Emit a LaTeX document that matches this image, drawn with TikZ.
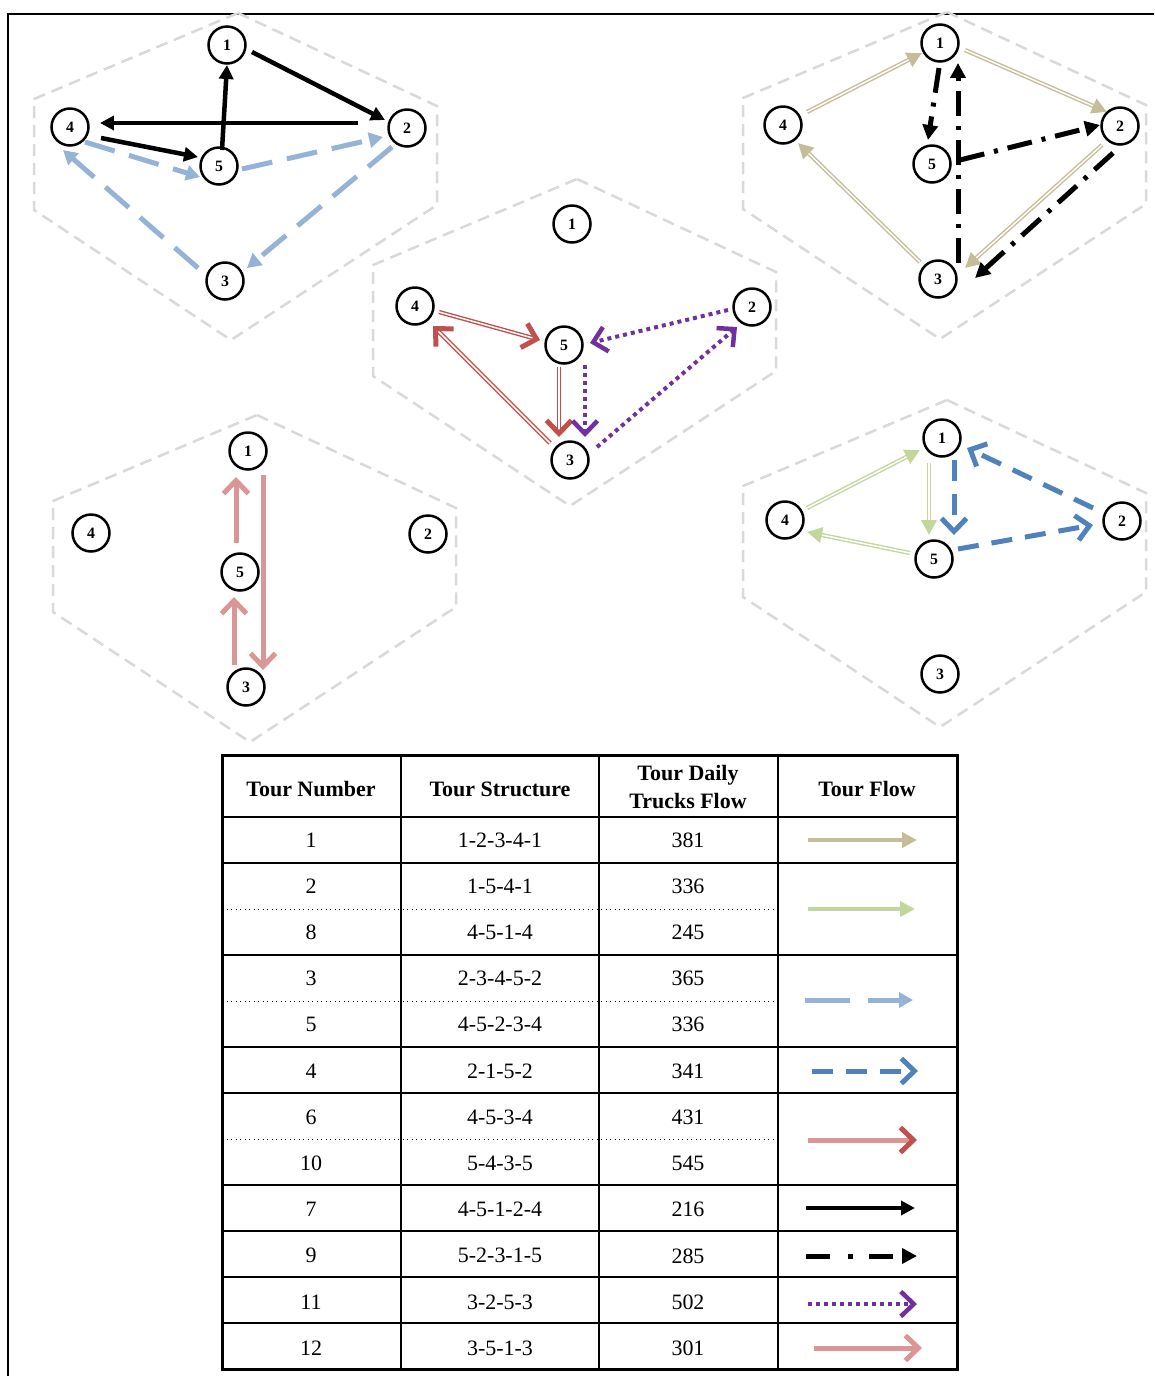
\documentclass[tikz,border=0pt]{standalone}
\usepackage{fontspec}
\setmainfont{Liberation Serif}
\usetikzlibrary{arrows.meta}
\usepackage{xcolor}
\definecolor{tourtan}{RGB}{196, 189, 151}
\definecolor{tourgreen}{RGB}{195, 214, 155}
\definecolor{tourlblue}{RGB}{149, 179, 215}
\definecolor{tourblue}{RGB}{79, 129, 189}
\definecolor{tourred}{RGB}{192, 80, 77}
\definecolor{tourpink}{RGB}{217, 150, 148}
\definecolor{tourpurple}{RGB}{112, 48, 160}
\definecolor{cellgray}{RGB}{217, 217, 217}

% five stations of one cell, placed around station 1
\newcommand{\sites}[3]{%
  \node[site] (#1-1) at (#2,#3) {1};
  \node[site] (#1-2) at (#2+180,#3+83) {2};
  \node[site] (#1-3) at (#2-2,#3+236) {3};
  \node[site] (#1-4) at (#2-157,#3+82) {4};
  \node[site] (#1-5) at (#2-8,#3+121) {5};
}
% dashed hexagon behind a cell, given its top left corner
\newcommand{\hexcell}[2]{%
  \draw[cell] (#1+204,#2) -- (#1+403,#2+93) -- (#1+403,#2+192) -- (#1+197,#2+327)
    -- (#1,#2+197) -- (#1,#2+86) -- cycle;
}
% double line with a solid head: body first, then the tip alone
\newcommand{\twinarrow}[3]{%
  \draw[#1, twin, arrows=-, shorten >=0.1cm] #2 -- #3;
  \draw[#1, dash pattern=on 0pt off 100cm] #2 -- #3;
}

\begin{document}
\begin{tikzpicture}[
    x=0.02cm, y=-0.02cm,
    site/.style={circle, draw, line width=0.05cm, minimum size=0.74cm, inner sep=0pt, font=\fontsize{9}{9}\selectfont\bfseries},
    cell/.style={draw=cellgray, line width=0.05cm, dash pattern=on 0.24cm off 0.14cm},
    twin/.style={line width=0.028cm, double=white, double distance=0.03cm},
    barb/.style={-{Straight Barb[length=0.26cm, width=0.5cm, line width'=#1]}},
    tourone/.style={draw=tourtan, line width=0.08cm, -{Triangle[length=0.3cm, width=0.3cm]}},
    tourtwo/.style={draw=tourgreen, line width=0.08cm, -{Triangle[length=0.3cm, width=0.3cm]}},
    tourthree/.style={draw=tourlblue, line width=0.1cm, dash pattern=on 0.62cm off 0.3cm, -{Triangle[length=0.28cm, width=0.3cm]}},
    tourfour/.style={draw=tourblue, line width=0.1cm, dash pattern=on 0.42cm off 0.26cm, barb=0.1cm},
    toursix/.style={draw=tourred, line width=0.08cm, barb=0.1cm},
    tourseven/.style={draw=black, line width=0.09cm, -{Triangle[length=0.28cm, width=0.28cm]}},
    tournine/.style={draw=black, line width=0.1cm, dash pattern=on 0.5cm off 0.2cm on 0.08cm off 0.2cm, -{Triangle[length=0.3cm, width=0.3cm]}},
    toureleven/.style={draw=tourpurple, line width=0.08cm, dash pattern=on 0.08cm off 0.08cm, barb=0.09cm},
    tourtwelve/.style={draw=tourpink, line width=0.1cm, barb=0.1cm},
    head/.style={font=\fontsize{12.5}{16}\selectfont\bfseries, align=center},
    entry/.style={font=\fontsize{12.5}{14}\selectfont}
]
\useasboundingbox (0,0) rectangle (1154,1376);

% page frame
\draw[line width=0.045cm] (8,1376) -- (8,14) -- (1154,14);

% cells
\hexcell{34}{13}
\hexcell{743}{12}
\hexcell{373}{179}
\hexcell{53}{415}
\hexcell{743}{400}

% stations
\sites{a}{227}{45}
\sites{b}{940}{43}
\sites{c}{572}{224}
\sites{d}{248}{451}
\sites{e}{942}{438}

% tours 7 and 3/5
\draw[tourseven] ([shift={(31,11)}]a-4.center) -- ([shift={(-21,-9)}]a-5.center);
\draw[tourseven] ([shift={(3,-16)}]a-5.center) -- ([shift={(0,20)}]a-1.center);
\draw[tourseven] ([shift={(25,7)}]a-1.center) -- ([shift={(-22,-8)}]a-2.center);
\draw[tourseven] ([shift={(-49,-5)}]a-2.center) -- ([shift={(30,-4)}]a-4.center);
\draw[tourthree] ([shift={(15,15)}]a-4.center) -- ([shift={(-19,11)}]a-5.center);
\draw[tourthree] ([shift={(23,3)}]a-5.center) -- ([shift={(-24,9)}]a-2.center);
\draw[tourthree] ([shift={(-15,19)}]a-2.center) -- ([shift={(22,-13)}]a-3.center);
\draw[tourthree] ([shift={(-27,-13)}]a-3.center) -- ([shift={(-7,23)}]a-4.center);

% tours 1 and 9
\twinarrow{tourone}{([shift={(24,-13)}]b-4.center)}{([shift={(-18,10)}]b-1.center)}
\twinarrow{tourone}{([shift={(25,7)}]b-1.center)}{([shift={(-13,-14)}]b-2.center)}
\twinarrow{tourone}{([shift={(-18,19)}]b-2.center)}{([shift={(27,-11)}]b-3.center)}
\twinarrow{tourone}{([shift={(-18,-17)}]b-3.center)}{([shift={(15,18)}]b-4.center)}
\draw[tournine] ([shift={(28,-4)}]b-5.center) -- ([shift={(-20,-1)}]b-2.center);
\draw[tournine] ([shift={(-7,27)}]b-2.center) -- ([shift={(37,-1)}]b-3.center);
\draw[tournine] ([shift={(20,-16)}]b-3.center) -- ([shift={(18,20)}]b-1.center);
\draw[tournine] ([shift={(-1,25)}]b-1.center) -- ([shift={(-4,-24)}]b-5.center);

% tours 6/10 and 11
\twinarrow{toursix}{([shift={(24,6)}]c-4.center)}{([shift={(-24,-5)}]c-5.center)}
\twinarrow{toursix}{([shift={(-5,22)}]c-5.center)}{([shift={(-11,-23)}]c-3.center)}
\twinarrow{toursix}{([shift={(-20,-17)}]c-3.center)}{([shift={(18,20)}]c-4.center)}
\draw[toureleven] ([shift={(-24,3)}]c-2.center) -- ([shift={(26,-2)}]c-5.center);
\draw[toureleven] ([shift={(21,20)}]c-5.center) -- ([shift={(15,-23)}]c-3.center);
\draw[toureleven] ([shift={(27,-13)}]c-3.center) -- ([shift={(-15,20)}]c-2.center);

% tour 12
\draw[tourtwelve] ([shift={(-12,-22)}]d-3.center) -- ([shift={(-6,25)}]d-5.center);
\draw[tourtwelve] ([shift={(-4,-29)}]d-5.center) -- ([shift={(-12,26)}]d-1.center);
\draw[tourtwelve] ([shift={(15,24)}]d-1.center) -- ([shift={(17,-17)}]d-3.center);

% tours 2/8 and 4
\twinarrow{tourtwo}{([shift={(22,-12)}]e-4.center)}{([shift={(-22,12)}]e-1.center)}
\twinarrow{tourtwo}{([shift={(-13,25)}]e-1.center)}{([shift={(-5,-24)}]e-5.center)}
\twinarrow{tourtwo}{([shift={(-24,-6)}]e-5.center)}{([shift={(22,12)}]e-4.center)}
\draw[tourfour] ([shift={(-29,-13)}]e-2.center) -- ([shift={(25,10)}]e-1.center);
\draw[tourfour] ([shift={(12,22)}]e-1.center) -- ([shift={(20,-24)}]e-5.center);
\draw[tourfour] ([shift={(24,-10)}]e-5.center) -- ([shift={(-29,4)}]e-2.center);

% table grid
\draw[line width=0.06cm] (222,755) rectangle (957,1369);
\foreach \x in {401,599,778}
  \draw[line width=0.035cm] (\x,755) -- (\x,1369);
\draw[line width=0.05cm] (222,817) -- (957,817);
\foreach \y in {863,955,1047,1093,1185,1231,1277,1323}
  \draw[line width=0.035cm] (222,\y) -- (957,\y);
\foreach \y in {909,1001,1139}
  \draw[line width=0.02cm, dotted] (222,\y) -- (778,\y);

% header
\node[head] (h1) at (311,789) {Tour Number};
\node[head] (h2) at (500,789) {Tour Structure};
\node[head] (h3) at (688,787) {Tour Daily\\Trucks Flow};
\node[head] (h4) at (867,789) {Tour Flow};

% rows
\foreach \n/\s/\f [count=\i] in {1/1-2-3-4-1/381, 2/1-5-4-1/336, 8/4-5-1-4/245,
    3/2-3-4-5-2/365, 5/4-5-2-3-4/336, 4/2-1-5-2/341, 6/4-5-3-4/431, 10/5-4-3-5/545,
    7/4-5-1-2-4/216, 9/5-2-3-1-5/285, 11/3-2-5-3/502, 12/3-5-1-3/301} {
  \node[entry] (n\i) at (311,840+46.2*\i-46.2) {\n};
  \node[entry] (s\i) at (500,840+46.2*\i-46.2) {\s};
  \node[entry] (f\i) at (688,840+46.2*\i-46.2) {\f};
}

% flow keys
\draw[tourone] (808,840) -- (917,840);
\draw[tourtwo] (808,909) -- (915,909);
\draw[tourthree, dash pattern=on 0.9cm off 0.36cm] (805,1000) -- (913,1000);
\draw[tourfour] (812,1071) -- (918,1071);
\draw[draw=tourpink, line width=0.1cm, -{Straight Barb[length=0.26cm, width=0.5cm, line width'=0.1cm, color=tourred]}] (808,1140) -- (917,1140);
\draw[tourseven] (806,1208) -- (915,1208);
\draw[tournine, dash pattern=on 0.48cm off 0.36cm on 0.1cm off 0.32cm] (806,1256) -- (917,1256);
\draw[toureleven] (808,1304) -- (917,1304);
\draw[tourtwelve] (814,1348) -- (922,1348);

\end{tikzpicture}
\end{document}
